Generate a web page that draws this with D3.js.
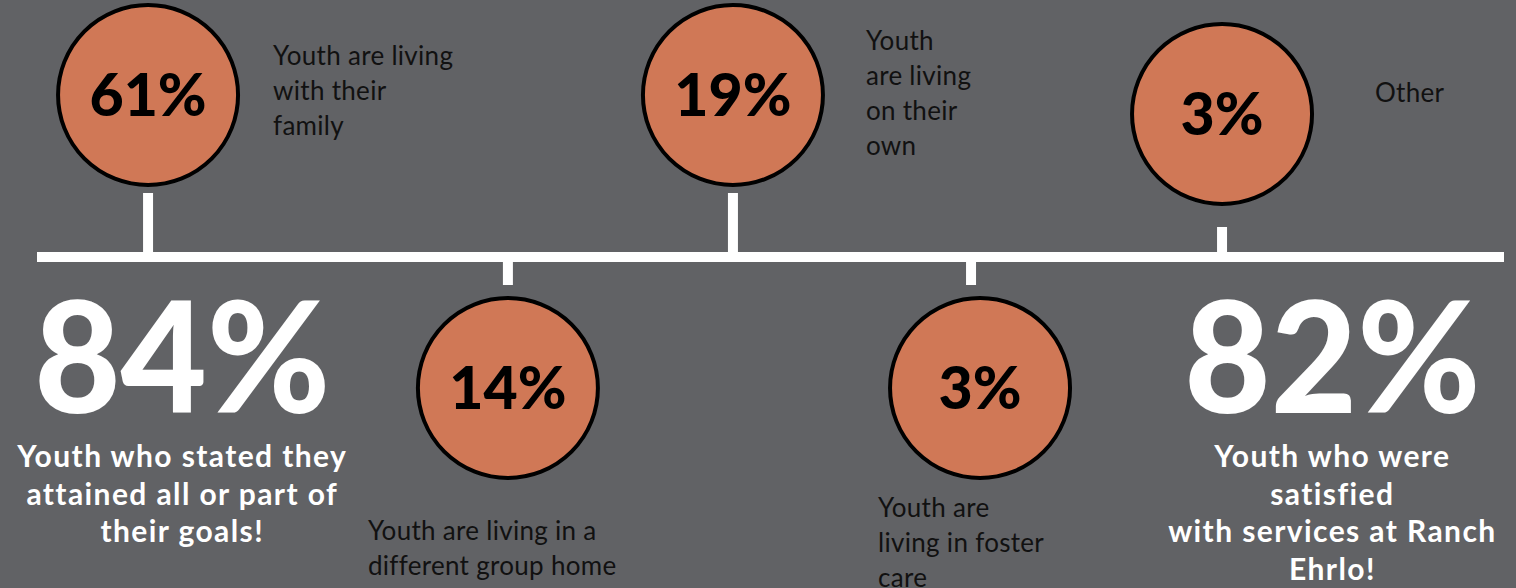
<!DOCTYPE html>
<html>
<head>
<meta charset="utf-8">
<script src="https://cdn.jsdelivr.net/npm/d3@7"></script>
<style>
  body { margin: 0; background: #616265; }
  svg { display: block; }
</style>
</head>
<body>
<div class="chart"></div>
<script>
// Configuration
var width = 1516;
var height = 588;
var bgcolor = '#616265';
var orbColor = '#d07856';

// data: where youth are living
var categories = ["With their family", "Different group home", "On their own", "Foster care", "Other"];
var values = [61, 14, 19, 3, 3];
var labelLines = [
  ["Youth are living", "with their", "family"],
  ["Youth are living in a", "different group home"],
  ["Youth", "are living", "on their", "own"],
  ["Youth are", "living in foster", "care"],
  ["Other"]
];

// data: headline figures
var highlightValues = [84, 82];
var highlightLines = [
  ["Youth who stated they", "attained all or part of", "their goals!"],
  ["Youth who were", "satisfied", "with services at Ranch", "Ehrlo!"]
];

// layout along the timeline (fraction of its length), kept apart from the data
var slotPos = [0.0757, 0.321, 0.4744, 0.6367, 0.8078];
var side = ["up", "down", "up", "down", "up"];
var circleOffset = [162, 131, 162, 131, 143];
var circleDx = [0, 0, 0, 9, 0];
var tickLen = [59, 23, 59, 23, 25];
var labelDx = [125, -140, 133, -93, 153];
var labelY = [65, 540, 50, 517, 102];
var highlightPos = [0.099, 0.883];

var lineY = 257;
var r = 90;

var x = d3.scaleLinear().domain([0, 1]).range([37, 1504]);

var svg = d3.select(".chart").append("svg")
    .attr("width", width)
    .attr("height", height);

svg.append("rect")
    .attr("width", width)
    .attr("height", height)
    .attr("fill", bgcolor);

// timeline
svg.append("line")
    .attr("x1", x(0)).attr("x2", x(1))
    .attr("y1", lineY).attr("y2", lineY)
    .attr("stroke", "#fff")
    .attr("stroke-width", 10);

var items = svg.selectAll("g.item")
    .data(values)
    .enter().append("g")
    .attr("class", "item");

// ticks
items.append("line")
    .attr("x1", function(d, i) { return x(slotPos[i]); })
    .attr("x2", function(d, i) { return x(slotPos[i]); })
    .attr("y1", function(d, i) { return side[i] == "up" ? lineY - 5 - tickLen[i] : lineY + 5; })
    .attr("y2", function(d, i) { return side[i] == "up" ? lineY - 5 : lineY + 5 + tickLen[i]; })
    .attr("stroke", "#fff")
    .attr("stroke-width", 10);

function cx(i) { return x(slotPos[i]) + circleDx[i]; }
function cy(i) {
  return side[i] == "up" ? lineY - circleOffset[i] : lineY + circleOffset[i];
}

items.append("circle")
    .attr("cx", function(d, i) { return cx(i); })
    .attr("cy", function(d, i) { return cy(i); })
    .attr("r", r)
    .attr("fill", orbColor)
    .attr("stroke", "#000")
    .attr("stroke-width", 4);

items.append("text")
    .attr("x", function(d, i) { return cx(i); })
    .attr("y", function(d, i) { return cy(i); })
    .attr("dy", "0.36em")
    .attr("text-anchor", "middle")
    .style("font-family", "Lato, sans-serif")
    .style("font-weight", "900")
    .style("font-size", "59px")
    .attr("fill", "#000")
    .text(function(d) { return d + "%"; });

// category labels
items.append("text")
    .attr("x", function(d, i) { return x(slotPos[i]) + labelDx[i]; })
    .attr("y", function(d, i) { return labelY[i]; })
    .style("font-family", "Lato, sans-serif")
    .style("font-size", "26px")
    .style("letter-spacing", "0.3px")
    .attr("fill", "#111")
    .selectAll("tspan")
    .data(function(d, i) { return labelLines[i]; })
    .enter().append("tspan")
    .attr("x", function() { return this.parentNode.getAttribute("x"); })
    .attr("dy", function(d, j) { return j == 0 ? 0 : 35; })
    .text(function(d) { return d; });

// headline figures
var big = svg.selectAll("g.big")
    .data(highlightValues)
    .enter().append("g")
    .attr("class", "big");

big.append("text")
    .attr("x", function(d, i) { return x(highlightPos[i]); })
    .attr("y", 413)
    .attr("text-anchor", "middle")
    .attr("textLength", 296)
    .attr("lengthAdjust", "spacingAndGlyphs")
    .style("font-family", "Lato, sans-serif")
    .style("font-weight", "900")
    .style("font-size", "154px")
    .attr("fill", "#fff")
    .text(function(d) { return d + "%"; });

big.append("text")
    .attr("y", 467)
    .attr("text-anchor", "middle")
    .style("font-family", "Lato, sans-serif")
    .style("font-weight", "bold")
    .style("font-size", "30px")
    .style("letter-spacing", "1.4px")
    .attr("fill", "#fff")
    .selectAll("tspan")
    .data(function(d, i) { return highlightLines[i].map(function(t) { return {t: t, i: i}; }); })
    .enter().append("tspan")
    .attr("x", function(d) { return x(highlightPos[d.i]); })
    .attr("dy", function(d, j) { return j == 0 ? 0 : 37.5; })
    .text(function(d) { return d.t; });
</script>
</body>
</html>
